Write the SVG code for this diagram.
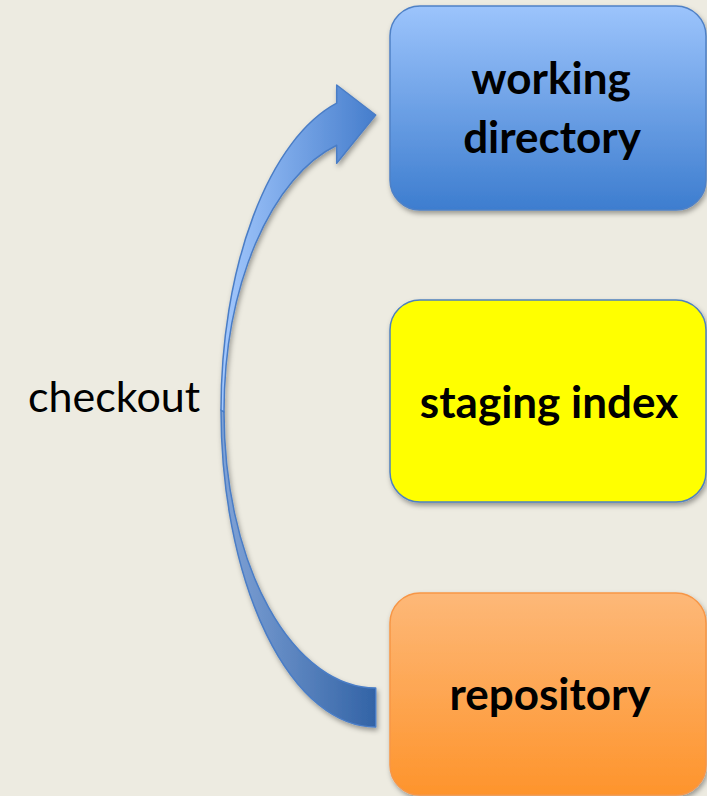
<svg xmlns="http://www.w3.org/2000/svg" width="707" height="796" viewBox="0 0 707 796">
  <style>
    .box-text { font-family: Lato, "Liberation Sans", sans-serif; font-weight: bold; font-size: 44px; fill: #000; text-anchor: middle; }
    .label { font-family: Lato, "Liberation Sans", sans-serif; font-size: 43px; fill: #000; }
  </style>
  <defs>
    <linearGradient id="blueFill" x1="0" y1="0" x2="0" y2="1">
      <stop offset="0" stop-color="#9cc4fc"/>
      <stop offset="1" stop-color="#3d7dcf"/>
    </linearGradient>
    <linearGradient id="orangeFill" x1="0" y1="0" x2="0" y2="1">
      <stop offset="0" stop-color="#fdb878"/>
      <stop offset="1" stop-color="#fe942c"/>
    </linearGradient>
    <linearGradient id="arrowFront" gradientUnits="userSpaceOnUse" x1="221" y1="0" x2="376" y2="0">
      <stop offset="0" stop-color="#a3c8fd"/>
      <stop offset="1" stop-color="#457dcc"/>
    </linearGradient>
    <linearGradient id="arrowBack" gradientUnits="userSpaceOnUse" x1="221" y1="0" x2="376" y2="0">
      <stop offset="0" stop-color="#81a3d6"/>
      <stop offset="1" stop-color="#3263a6"/>
    </linearGradient>
    <filter id="shadow" x="-10%" y="-10%" width="125%" height="130%">
      <feDropShadow dx="1.5" dy="3" stdDeviation="2.5" flood-color="#000" flood-opacity="0.35"/>
    </filter>
  </defs>

  <!-- background -->
  <rect x="0" y="0" width="707" height="796" fill="#edebe1"/>

  <!-- curved checkout arrow -->
  <g id="connectors" filter="url(#shadow)" stroke="#4a7dc6" stroke-width="1.5" stroke-linejoin="round">
    <path d="M 221,410 A 154.7 317 0 0 0 375.7,727 L 375.7,688 A 151.7 276 0 0 1 224,412 Z" fill="url(#arrowBack)"/>
    <path d="M 221,410 A 154.7 317 0 0 1 336.7,103.2 L 336.7,85 L 375.7,115 L 336.7,163.3 L 336.7,145.3 A 151.7 276 0 0 0 224,412 Z" fill="url(#arrowFront)"/>
  </g>

  <g id="checkout-label">
    <text class="label" x="28" y="412">checkout</text>
  </g>

  <g id="working-directory">
    <rect x="390" y="6" width="316" height="204" rx="30" ry="30" fill="url(#blueFill)" stroke="#4f81c6" stroke-width="1.5" filter="url(#shadow)"/>
    <text class="box-text" x="551" y="94">working</text>
    <text class="box-text" x="552" y="153">directory</text>
  </g>

  <g id="staging-index">
    <rect x="390" y="300" width="316" height="202" rx="30" ry="30" fill="#ffff00" stroke="#4f81bd" stroke-width="1.5" filter="url(#shadow)"/>
    <text class="box-text" x="549" y="418">staging index</text>
  </g>

  <g id="repository">
    <rect x="390" y="593" width="316" height="202" rx="30" ry="30" fill="url(#orangeFill)" stroke="#f79646" stroke-width="1.5" filter="url(#shadow)"/>
    <text class="box-text" x="550" y="710">repository</text>
  </g>
</svg>
